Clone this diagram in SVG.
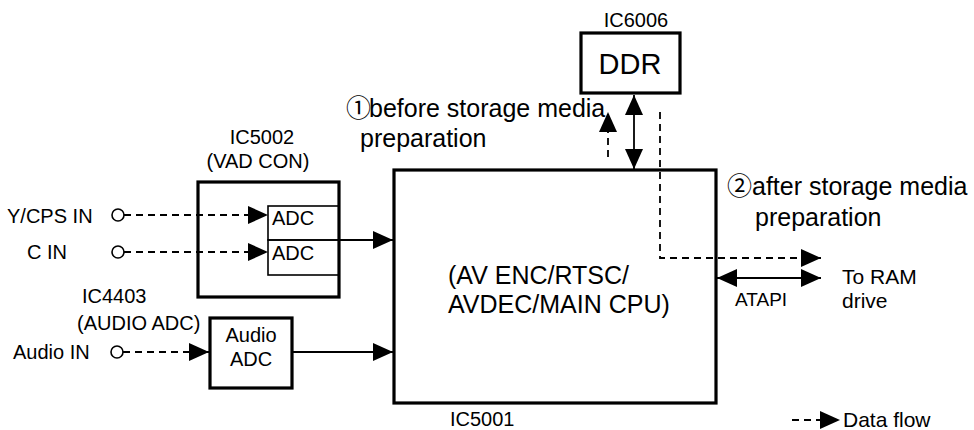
<svg xmlns="http://www.w3.org/2000/svg" width="974" height="430" viewBox="0 0 974 430">
<style>
text{font-family:"Liberation Sans",Arial,"Noto Sans CJK JP",sans-serif;fill:#000}
.lbl{font-size:20px}
.big{font-size:25px}
.thick{fill:#fff;stroke:#000;stroke-width:3.2}
.thin{fill:none;stroke:#000;stroke-width:1.6}
.ln{fill:none;stroke:#000;stroke-width:1.8}
.dash{fill:none;stroke:#000;stroke-width:1.8;stroke-dasharray:7 5}
.pin{fill:#fff;stroke:#000;stroke-width:1.6}
</style>
<defs>
<marker id="ah" markerUnits="userSpaceOnUse" markerWidth="20" markerHeight="18" refX="20" refY="9" orient="auto-start-reverse" viewBox="0 0 20 18"><path d="M0,0L20,9L0,18z" fill="#000"/></marker>
</defs>
<rect width="974" height="430" fill="#fff"/>
<g id="ddr">
<text class="lbl" x="636" y="27" text-anchor="middle">IC6006</text>
<rect class="thick" x="581" y="33" width="99" height="60"/>
<text x="630" y="74" text-anchor="middle" font-size="29">DDR</text>
</g>
<g id="ic5002">
<text class="lbl" x="262" y="144" text-anchor="middle">IC5002</text>
<text class="lbl" x="258" y="168" text-anchor="middle">(VAD CON)</text>
<rect class="thick" x="198" y="182" width="141" height="115"/>
<rect class="thin" x="268" y="206" width="71" height="34"/>
<rect class="thin" x="268" y="240" width="71" height="35"/>
<text class="lbl" x="272" y="225">ADC</text>
<text class="lbl" x="272" y="260">ADC</text>
</g>
<g id="ic5001">
<rect class="thick" x="394" y="170" width="322" height="233"/>
<text class="big" x="448" y="284">(AV ENC/RTSC/</text>
<text class="big" x="448" y="313">AVDEC/MAIN CPU)</text>
<text class="lbl" x="450" y="426">IC5001</text>
</g>
<g id="ic4403">
<text class="lbl" x="82" y="303">IC4403</text>
<text class="lbl" x="77" y="330">(AUDIO ADC)</text>
<rect class="thick" x="210" y="318" width="82" height="70"/>
<text class="lbl" x="251" y="342" text-anchor="middle">Audio</text>
<text class="lbl" x="251" y="366" text-anchor="middle">ADC</text>
</g>
<g id="ycps-in">
<text class="lbl" x="7" y="223">Y/CPS IN</text>
<circle class="pin" cx="118" cy="215" r="6"/>
</g>
<g id="c-in">
<text class="lbl" x="27" y="259">C IN</text>
<circle class="pin" cx="118" cy="252" r="6"/>
</g>
<g id="audio-in">
<text class="lbl" x="13" y="359">Audio IN</text>
<circle class="pin" cx="117" cy="352" r="6"/>
</g>
<g id="ram-drive">
<text x="842" y="284" font-size="21">To RAM</text>
<text x="842" y="308" font-size="21">drive</text>
</g>
<g id="notes">
<text class="big" x="346" y="117">①</text>
<text class="big" x="369" y="117">before storage media</text>
<text class="big" x="360" y="147">preparation</text>
<text class="big" x="727" y="195">②</text>
<text class="big" x="752" y="195">after storage media</text>
<text class="big" x="755" y="226">preparation</text>
</g>
<g id="legend">
<line class="dash" x1="792" y1="420" x2="840" y2="420" marker-end="url(#ah)"/>
<text x="843" y="427" font-size="21">Data flow</text>
</g>
<g id="connectors">
<line class="dash" x1="124" y1="215" x2="268" y2="215" marker-end="url(#ah)"/>
<line class="dash" x1="124" y1="252" x2="268" y2="252" marker-end="url(#ah)"/>
<line class="ln" x1="339" y1="240" x2="393" y2="240" marker-end="url(#ah)"/>
<line class="dash" x1="123" y1="352" x2="209" y2="352" marker-end="url(#ah)"/>
<line class="ln" x1="292" y1="352" x2="393" y2="352" marker-end="url(#ah)"/>
<line class="ln" x1="634" y1="95" x2="634" y2="169" marker-start="url(#ah)" marker-end="url(#ah)"/>
<line class="dash" x1="608" y1="157" x2="608" y2="112" marker-end="url(#ah)"/>
<path class="dash" d="M660,112V258H821" marker-end="url(#ah)"/>
<line class="ln" x1="717" y1="278" x2="821" y2="278" marker-start="url(#ah)" marker-end="url(#ah)"/>
<text x="735" y="306" font-size="19">ATAPI</text>
</g>
</svg>
